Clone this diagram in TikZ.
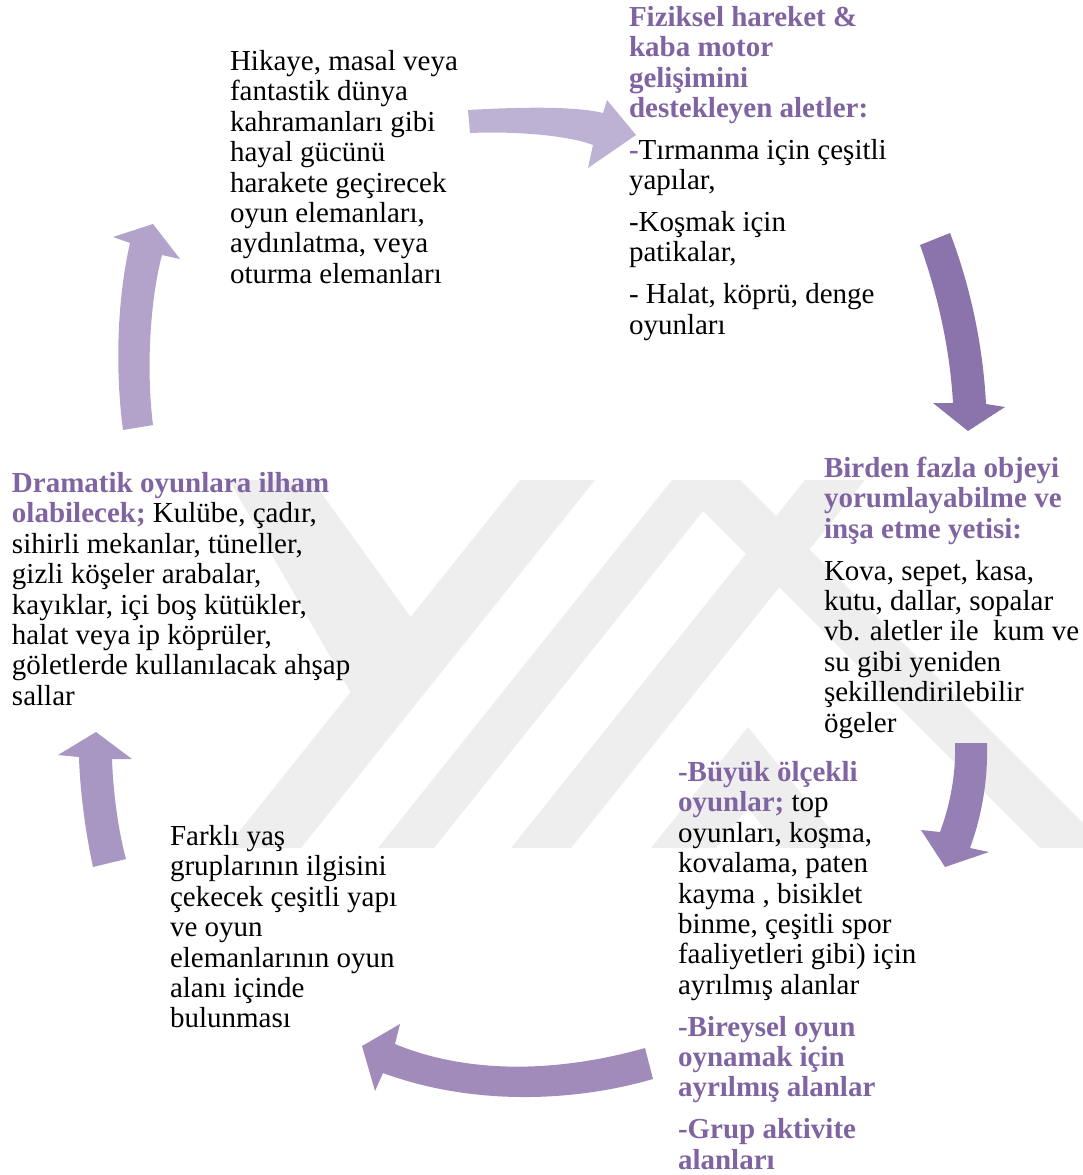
\documentclass[tikz,border=0pt]{standalone}
\usepackage{fontspec}
\setmainfont{Liberation Serif}
\definecolor{accent}{HTML}{8064A2}
\definecolor{wm}{HTML}{EEEEEE}
\definecolor{aone}{HTML}{BEB2D4}
\definecolor{atwo}{HTML}{8B73AB}
\definecolor{athree}{HTML}{967FB4}
\definecolor{afour}{HTML}{A08BBB}
\definecolor{afive}{HTML}{A997C3}
\definecolor{asix}{HTML}{B3A3CB}
\newcommand\pb[1]{\textbf{\color{accent}#1}}
\newcommand\fsz{\fontsize{29pt}{30.4pt}\selectfont}
\newcommand\asc{18.8}
\tikzset{
  txt/.style={anchor=north west, inner sep=0pt, outer sep=0pt, align=left, font=\fsz},
  blockarrow/.style={fill=#1, draw=none},
  wmark/.style={fill=wm, draw=none}
}
\begin{document}
\begin{tikzpicture}[x=1pt,y=-1pt]
\useasboundingbox (0,0) rectangle (1083,1175);
% watermark
\fill[wmark] (226,848) -- (301,848) -- (595,480) -- (520,480) -- cycle;
\fill[wmark] (229,480) -- (312,480) -- (420,630) -- (355,700) -- cycle;
\fill[wmark] (378,848) -- (434,848) -- (728,480) -- (672,480) -- cycle;
\fill[wmark] (511,848) -- (571,848) -- (865,480) -- (805,480) -- cycle;
\fill[wmark] (651,848) -- (748,727) -- (845,848) -- (780,848) -- (748,808) -- (716,848) -- cycle;
\fill[wmark] (672,480) -- (740,480) -- (1083,823) -- (1083,848) -- (1040,848) -- cycle;
% arrows
\fill[blockarrow=aone] (468,110) .. controls (520,107) and (575,106) .. (603,113) -- (607,100) -- (636,135) -- (588,168) -- (593,145) .. controls (570,136) and (520,131) .. (470,133) -- cycle;
\fill[blockarrow=atwo] (920,245) .. controls (938,295) and (950,350) .. (953,403) -- (933,403) -- (968,431) -- (1005,407) -- (986,404) .. controls (983,345) and (970,285) .. (950,233) -- cycle;
\fill[blockarrow=athree] (955,743) .. controls (956,775) and (950,805) .. (940,832) -- (921,830) -- (945,867) -- (989,852) -- (970,848) .. controls (982,815) and (988,780) .. (987,743) -- cycle;
\fill[blockarrow=afour] (645,1048) .. controls (560,1072) and (470,1075) .. (395,1044) -- (400,1024) -- (362,1046) -- (375,1091) -- (383,1073) .. controls (470,1105) and (570,1103) .. (653,1079) -- cycle;
\fill[blockarrow=afive] (93,867) .. controls (85,830) and (80,790) .. (79,757) -- (58,755) -- (96,732) -- (132,759) -- (112,759) .. controls (113,790) and (118,830) .. (126,859) -- cycle;
\fill[blockarrow=asix] (123,430) .. controls (115,370) and (117,300) .. (130,243) -- (113,237) -- (153,224) -- (180,259) -- (162,255) .. controls (150,300) and (146,370) .. (153,425) -- cycle;
% texts (coordinates: first baseline minus strut height, adjusted)
\node[txt] (hikaye) at (230,{68-\asc}) {\strut Hikaye, masal veya\\fantastik dünya\\kahramanları gibi\\hayal gücünü\\harakete geçirecek\\oyun elemanları,\\aydınlatma, veya\\oturma elemanları};
\node[txt] (fiziksel) at (629,{24-\asc}) {\strut\pb{Fiziksel hareket \&}\\\pb{kaba motor}\\\pb{gelişimini}\\\pb{destekleyen aletler:}\\[11.5pt]\pb{-}Tırmanma için çeşitli\\yapılar,\\[11pt]-Koşmak için\\patikalar,\\[11.5pt]- Halat, köprü, denge\\oyunları};
\node[txt] (birden) at (824,{475-\asc}) {\strut\pb{Birden fazla objeyi}\\\pb{yorumlayabilme ve}\\\pb{inşa etme yetisi:}\\[11.5pt]Kova, sepet, kasa,\\kutu, dallar, sopalar\\vb. aletler ile\ \ kum ve\\su gibi yeniden\\şekillendirilebilir\\ögeler};
\node[txt] (buyuk) at (678,{779-\asc}) {\strut\pb{-Büyük ölçekli}\\\pb{oyunlar;} top\\oyunları, koşma,\\kovalama, paten\\kayma , bisiklet\\binme, çeşitli spor\\faaliyetleri gibi) için\\ayrılmış alanlar\\[11.5pt]\pb{-Bireysel oyun}\\\pb{oynamak için}\\\pb{ayrılmış alanlar}\\[11.5pt]\pb{-Grup aktivite}\\\pb{alanları}};
\node[txt] (farkli) at (170,{843-\asc}) {\strut Farklı yaş\\gruplarının ilgisini\\çekecek çeşitli yapı\\ve oyun\\elemanlarının oyun\\alanı içinde\\bulunması};
\node[txt] (dramatik) at (12,{490-\asc}) {\strut\pb{Dramatik oyunlara ilham}\\\pb{olabilecek;} Kulübe, çadır,\\sihirli mekanlar, tüneller,\\gizli köşeler arabalar,\\kayıklar, içi boş kütükler,\\halat veya ip köprüler,\\göletlerde kullanılacak ahşap\\sallar};
\end{tikzpicture}
\end{document}
